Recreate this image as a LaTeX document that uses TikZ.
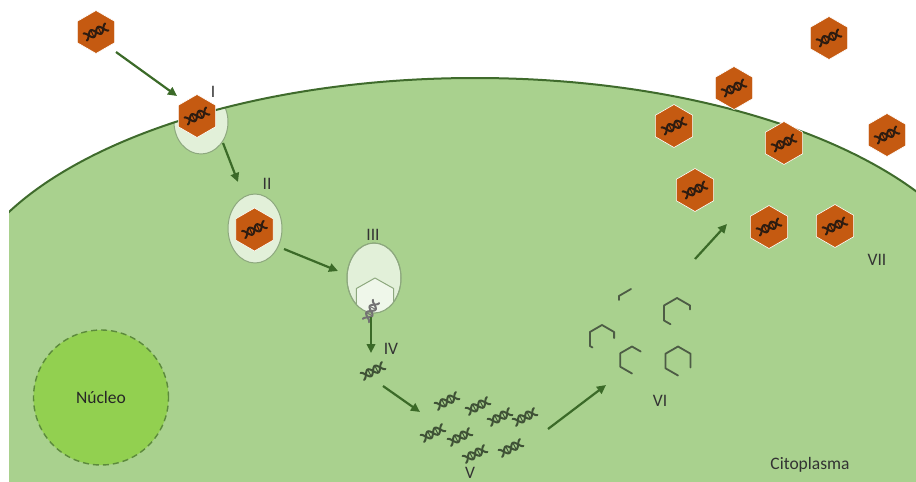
\documentclass[tikz,border=0pt]{standalone}
\usepackage{fontspec}
\setmainfont{Carlito}
\usetikzlibrary{arrows.meta,shapes.geometric}

\definecolor{cellgreen}{HTML}{A9D18E}
\definecolor{membranegreen}{HTML}{3F6B2C}
\definecolor{arrowgreen}{HTML}{3B6A28}
\definecolor{nucleusgreen}{HTML}{92D050}
\definecolor{nucleusedge}{HTML}{5C8A3C}
\definecolor{vesiclefill}{HTML}{E2F0D9}
\definecolor{vesicleedge}{HTML}{8DA87E}
\definecolor{capsidorange}{HTML}{C55A11}
\definecolor{dnabrown}{HTML}{2E1C10}
\definecolor{dnagreen}{HTML}{3F5236}
\definecolor{shellgray}{HTML}{4D5C45}
\definecolor{labelgray}{HTML}{333333}

\tikzset{
  lbl/.style={text=labelgray, font=\fontsize{17.5}{20}\selectfont, anchor=base, inner sep=0pt},
  virus/.style={regular polygon, regular polygon sides=6, shape border rotate=90,
    minimum size=43pt, inner sep=0pt, fill=capsidorange, draw=white, line width=0.6pt},
  vesicle/.style={ellipse, inner sep=0pt, fill=vesiclefill, draw=vesicleedge, line width=1pt},
  flow/.style={draw=arrowgreen, line width=2.2pt, -{Triangle[length=9pt,width=8.5pt]}},
  shell/.style={draw=shellgray, line width=1.8pt, line join=round, line cap=round},
  dna/.pic={
    \draw[line width=2pt, line cap=round] plot[domain=-12:12, samples=49, smooth] (\x,{3.8*sin(22.5*\x)});
    \draw[line width=2pt, line cap=round] plot[domain=-12:12, samples=49, smooth] (\x,{-3.8*sin(22.5*\x)});
    \foreach \r in {-4,4} \draw[line width=1pt] (\r,-3.5) -- (\r,3.5);
  }
}

% upper outline of the cell (top arc of a wide ellipse)
\newcommand{\cellarc}{(-45,319) arc[start angle=180, end angle=0, x radius=520pt, y radius=241pt]}

\begin{document}
\begin{tikzpicture}[x=1pt,y=-1pt]
\useasboundingbox (0,0) rectangle (916,482);

% cytoplasm
\begin{scope}
  \clip (9,0) rectangle (916,482);
  \fill[cellgreen] (-45,490) -- \cellarc -- (995,490) -- cycle;
\end{scope}

% vesicle forming at the membrane (stage I)
\begin{scope}
  \clip (-45,490) -- \cellarc -- (995,490) -- cycle;
  \node[vesicle, minimum width=54pt, minimum height=64pt] (ves1) at (201,122) {};
\end{scope}

% plasma membrane
\begin{scope}
  \clip (9,0) rectangle (916,482);
  \draw[membranegreen, line width=2pt] \cellarc;
\end{scope}

% nucleus
\node[circle, minimum size=135pt, inner sep=0pt, fill=nucleusgreen, draw=nucleusedge,
      line width=1.4pt, dash pattern=on 6pt off 4pt, text=black!85,
      font=\fontsize{17.5}{20}\selectfont] (nucleus) at (101,397.5) {Núcleo};

% endosomes (stages II and III)
\node[vesicle, minimum width=54pt, minimum height=69pt] (ves2) at (255,228.5) {};
\node[vesicle, minimum width=54pt, minimum height=70pt] (ves3) at (374,278) {};
\begin{scope}
  \clip (374,278) ellipse[x radius=27pt, y radius=35pt];
  \draw[fill=white!45!vesiclefill, draw=vesicleedge, line width=1pt, line join=round]
    (375,278) -- (393.6,288.5) -- (393.6,309.5) -- (375,320) -- (356.4,309.5) -- (356.4,288.5) -- cycle;
\end{scope}
\draw[vesicleedge, line width=1pt] (374,278) ellipse[x radius=27pt, y radius=35pt];

% arrow end points
\coordinate (a1s) at (116,52);  \coordinate (a1e) at (177,96);
\coordinate (a2s) at (223,143); \coordinate (a2e) at (238,182);
\coordinate (a3s) at (284,249); \coordinate (a3e) at (338,271);
\coordinate (a4s) at (371,317); \coordinate (a4e) at (371,353);
\coordinate (a5s) at (383,386); \coordinate (a5e) at (420,412);
\coordinate (a6s) at (548,429); \coordinate (a6e) at (606,385);
\coordinate (a7s) at (695,259); \coordinate (a7e) at (727,224);

% genome released from the uncoated capsid
\pic[color=black!55, rotate=62, scale=0.9] at (371,311) {dna};

% arrows
\draw[flow] (a1s) -- (a1e);
\draw[flow] (a2s) -- (a2e);
\draw[flow] (a3s) -- (a3e);
\draw[flow] (a4s) -- (a4e);
\draw[flow] (a5s) -- (a5e);
\draw[flow] (a6s) -- (a6e);
\draw[flow] (a7s) -- (a7e);

% virions
\foreach \n/\p in {h0/{(96,32)}, hI/{(197,116)}, hII/{(254.5,229.5)},
                   v1/{(829,38)}, v2/{(734,88)}, v3/{(674,126)}, v4/{(784,143)},
                   v5/{(887,135)}, v6/{(695,190)}, v7/{(769,227)}, v8/{(835,226)}}{
  \node[virus] (\n) at \p {};
  \pic[color=dnabrown, rotate=25] at (\n.center) {dna};
}

% free genomes (stages IV and V)
\foreach \p in {(373,371), (447,401), (478,406), (500,417), (525,417),
                (433,433), (460,437), (475,454), (511,448)}
  \pic[color=dnagreen, rotate=27] at \p {dna};

% capsid pieces being assembled (stage VI)
\begin{scope}[shift={(631,303)}]
  \draw[shell] (-12.1,-3) -- (-12.1,-7) -- (0,-14);
\end{scope}
\begin{scope}[shift={(677,313)}]
  \draw[shell] (-6.5,11.25) -- (-13,7.5) -- (-13,-7.5) -- (0,-15) -- (13,-7.5) -- (13,-3.5);
\end{scope}
\begin{scope}[shift={(602,339)}]
  \draw[shell] (-9.5,8.5) -- (-12.1,7) -- (-12.1,-7) -- (0,-14) -- (12.1,-7) -- (12.1,-1);
\end{scope}
\begin{scope}[shift={(632,360)}]
  \draw[shell] (0,13.5) -- (-11.7,6.75) -- (-11.7,-6.75) -- (0,-13.5) -- (8.7,-8.5);
\end{scope}
\begin{scope}[shift={(678,361)}]
  \draw[shell] (0,14.5) -- (-12.56,7.25) -- (-12.56,-7.25) -- (0,-14.5) -- (12.56,-7.25) -- (12.56,6.5);
\end{scope}

% stage labels
\node[lbl] (lI)   at (213,97)  {I};
\node[lbl] (lII)  at (267,189) {II};
\node[lbl] (lIII) at (373,240) {III};
\node[lbl] (lIV)  at (391,354) {IV};
\node[lbl] (lV)   at (470,478) {V};
\node[lbl] (lVI)  at (660,406) {VI};
\node[lbl] (lVII) at (877,265) {VII};
\node[lbl] (lcyt) at (810,469) {Citoplasma};
\end{tikzpicture}
\end{document}
